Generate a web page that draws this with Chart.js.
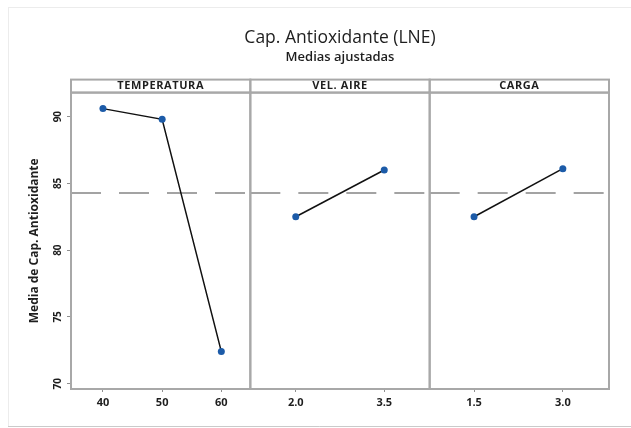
<!DOCTYPE html>
<html>
<head>
<meta charset="utf-8">
<style>
  html, body { margin: 0; padding: 0; background: #fff; }
  #wrap { position: relative; width: 631px; height: 428px; }
</style>
<script src="https://cdn.jsdelivr.net/npm/chart.js@4.4.0/dist/chart.umd.min.js"></script>
</head>
<body>
<div id="wrap"><canvas id="chart" width="631" height="428"></canvas></div>
<script>
// adjusted means per factor level
var tempLevels = [40, 50, 60];
var tempMeans = [90.6, 89.8, 72.4];
var velLevels = [2.0, 3.5];
var velMeans = [82.5, 86.0];
var cargaLevels = [1.5, 3.0];
var cargaMeans = [82.5, 86.1];
var grandMean = 84.28;

var panelNames = ['TEMPERATURA', 'VEL. AIRE', 'CARGA'];
var tempTickLabels = ['40', '50', '60'];
var velTickLabels = ['2.0', '3.5'];
var cargaTickLabels = ['1.5', '3.0'];
var yTickValues = [70, 75, 80, 85, 90];

// x range of each panel
var tempRange = [34.6, 64.9];
var velRange = [1.23, 4.27];
var cargaRange = [0.75, 3.78];

Chart.defaults.font.family = '"Open Sans", "Noto Sans", sans-serif';
Chart.defaults.color = '#1e1e1e';

function points(xs, ys) {
    return xs.map(function (x, i) { return { x: x, y: ys[i] }; });
}

function meanLine(axisId, range) {
    return {
        data: [{ x: range[0], y: grandMean }, { x: range[1], y: grandMean }],
        xAxisID: axisId,
        borderColor: '#a3a3a3',
        borderWidth: 2,
        borderDash: [30, 18],
        pointRadius: 0
    };
}

function meansLine(axisId, xs, ys) {
    return {
        data: points(xs, ys),
        xAxisID: axisId,
        borderColor: '#111',
        borderWidth: 1.5,
        pointRadius: 3.5,
        pointBorderWidth: 0,
        pointBackgroundColor: '#1c5ba8',
        pointBorderColor: '#1c5ba8'
    };
}

function xAxis(range, levels, labels) {
    return {
        type: 'linear',
        position: 'bottom',
        stack: 'panels',
        min: range[0],
        max: range[1],
        afterBuildTicks: function (s) { s.ticks = levels.map(function (v) { return { value: v }; }); },
        afterFit: function (s) { s.height = 39; },
        grid: { drawOnChartArea: false, drawTicks: true, tickLength: 3, tickColor: '#8f8f8f' },
        border: { display: false },
        ticks: {
            padding: 4,
            maxRotation: 0,
            autoSkip: false,
            font: { size: 11, weight: 'bold' },
            callback: function (v, i) { return labels[i]; }
        }
    };
}

// panel boxes, strip headers and the outer frame
var panelFrames = {
    id: 'panelFrames',
    beforeDraw: function (chart) {
        var ctx = chart.ctx;
        ctx.save();
        ctx.fillStyle = '#fff';
        ctx.fillRect(0, 0, chart.width, chart.height);
        ctx.strokeStyle = '#ececec';
        ctx.lineWidth = 1;
        ctx.strokeRect(8.5, 7.5, 700, 419);
        ctx.strokeStyle = '#cacaca';
        ctx.beginPath();
        ctx.moveTo(8, 426.5);
        ctx.lineTo(chart.width, 426.5);
        ctx.stroke();
        ctx.restore();
    },
    afterDraw: function (chart) {
        var ctx = chart.ctx;
        var area = chart.chartArea;
        ctx.save();
        ctx.strokeStyle = '#a8a8a8';
        ctx.lineWidth = 2;
        ['xTemp', 'xVel', 'xCarga'].forEach(function (id, i) {
            var s = chart.scales[id];
            ctx.strokeRect(s.left, area.top, s.right - s.left, area.bottom - area.top);
            ctx.strokeRect(s.left, area.top - 13, s.right - s.left, 13);
            ctx.fillStyle = '#1e1e1e';
            ctx.font = 'bold 11px "Open Sans", sans-serif';
            ctx.letterSpacing = '0.6px';
            ctx.textAlign = 'center';
            ctx.textBaseline = 'middle';
            ctx.fillText(panelNames[i], (s.left + s.right) / 2, area.top - 6.5);
        });
        ctx.restore();
    }
};

var ctx = document.getElementById('chart').getContext('2d');
var chart = new Chart(ctx, {
    type: 'line',
    data: {
        datasets: [
            meansLine('xTemp', tempLevels, tempMeans),
            meansLine('xVel', velLevels, velMeans),
            meansLine('xCarga', cargaLevels, cargaMeans),
            meanLine('xTemp', tempRange),
            meanLine('xVel', velRange),
            meanLine('xCarga', cargaRange)
        ]
    },
    options: {
        responsive: false,
        animation: false,
        layout: { padding: { top: 0, left: 0, right: 22, bottom: 0 } },
        elements: { line: { tension: 0 } },
        plugins: {
            legend: { display: false },
            tooltip: { enabled: false },
            title: {
                display: true,
                fullSize: false,
                text: 'Cap. Antioxidante (LNE)',
                font: { size: 17.5, weight: 'normal' },
                padding: { top: 28, bottom: 0 }
            },
            subtitle: {
                display: true,
                fullSize: false,
                text: 'Medias ajustadas',
                font: { size: 13, weight: '600' },
                padding: { top: 0, bottom: 28 }
            }
        },
        scales: {
            xTemp: xAxis(tempRange, tempLevels, tempTickLabels),
            xVel: xAxis(velRange, velLevels, velTickLabels),
            xCarga: xAxis(cargaRange, cargaLevels, cargaTickLabels),
            y: {
                min: 69.6,
                max: 91.8,
                afterBuildTicks: function (s) { s.ticks = yTickValues.map(function (v) { return { value: v }; }); },
                afterFit: function (s) { s.width = 71; },
                grid: { drawOnChartArea: false, tickLength: 4, tickColor: '#8f8f8f' },
                border: { display: false },
                ticks: {
                    minRotation: 90,
                    maxRotation: 90,
                    crossAlign: 'center',
                    padding: 3,
                    font: { size: 10, weight: 'bold' }
                },
                title: {
                    display: true,
                    text: 'Media de Cap. Antioxidante',
                    padding: { top: 27 },
                    font: { size: 12, weight: 'bold' }
                }
            }
        }
    },
    plugins: [panelFrames]
});
</script>
</body>
</html>
